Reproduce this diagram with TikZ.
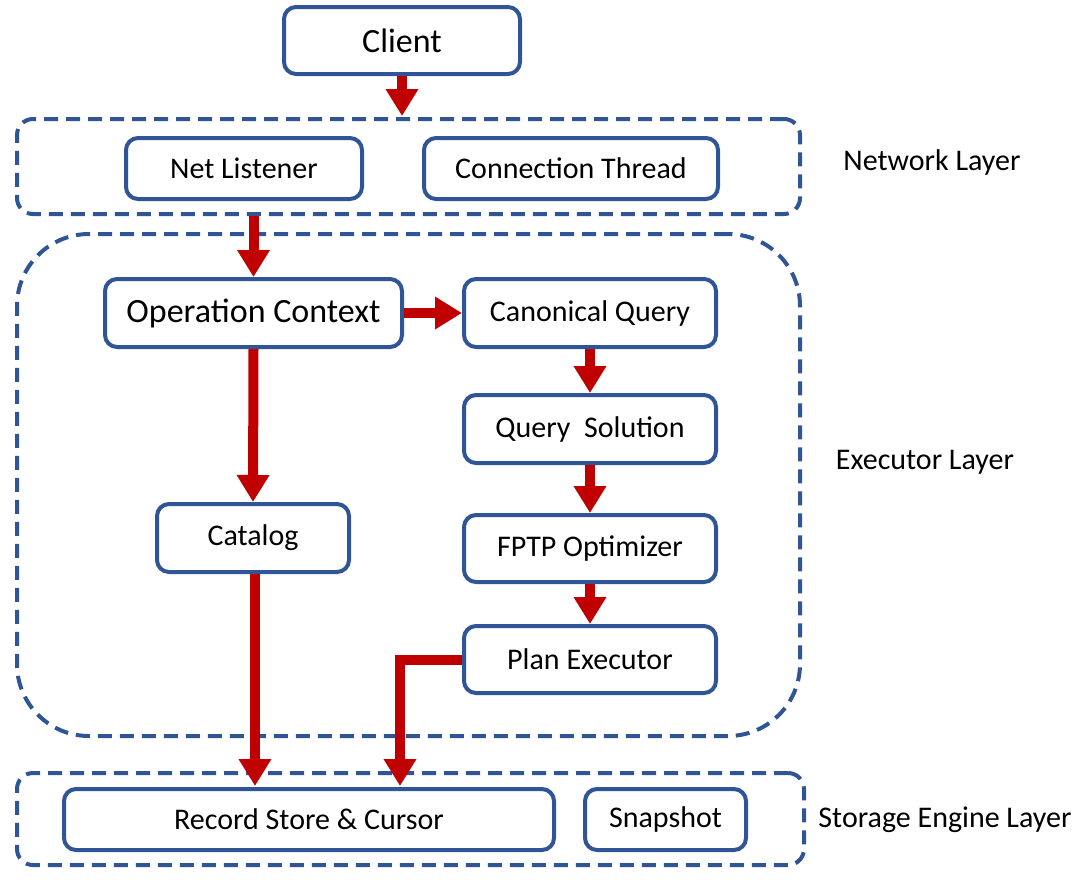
\documentclass[tikz,border=0pt]{standalone}
\usepackage{fontspec}
\setmainfont{Carlito}
\usetikzlibrary{arrows.meta}
\definecolor{boxblue}{HTML}{2F5597}
\definecolor{arrred}{HTML}{C00000}
\begin{document}
\begin{tikzpicture}[x=1pt,y=-1pt,
  box/.style={draw=boxblue,line width=4pt,rounded corners=12pt,fill=white,
    font=\fontsize{30}{35}\selectfont,inner sep=0pt},
  big/.style={font=\fontsize{34}{39}\selectfont},
  layer/.style={draw=boxblue,line width=4pt,dash pattern=on 14pt off 8pt,inner sep=0pt},
  lbl/.style={font=\fontsize{30}{35}\selectfont},
  arr/.style={draw=arrred,line width=10pt,-{Triangle[width=31pt,length=27pt]}}]
\useasboundingbox (0,0) rectangle (1085,879);
% layers
\node[layer,rounded corners=16pt,minimum width=783pt,minimum height=95pt] (net) at (408.5,166.5) {};
\node[layer,rounded corners=72pt,minimum width=783pt,minimum height=502pt] (exe) at (408.5,485) {};
\node[layer,rounded corners=16pt,minimum width=787pt,minimum height=92pt] (sto) at (410.5,819) {};
\node[lbl] (netlbl) at (932,162) {Network Layer};
\node[lbl] (exelbl) at (925,462) {Executor Layer};
\node[lbl] (stolbl) at (945,820) {Storage Engine Layer};
% boxes
\node[box,big,minimum width=236pt,minimum height=67pt] (client) at (402,40.5) {Client};
\node[box,minimum width=236pt,minimum height=61pt] (listen) at (244,168.5) {Net Listener};
\node[box,minimum width=294pt,minimum height=61pt] (conn) at (571,168.5) {Connection Thread};
\node[box,big,minimum width=297pt,minimum height=68pt] (opctx) at (253.5,313) {Operation Context};
\node[box,minimum width=252pt,minimum height=68pt] (canon) at (590,313) {Canonical Query};
\node[box,minimum width=252pt,minimum height=68pt] (qsol) at (590,429) {Query\ \ Solution};
\node[box,minimum width=192pt,minimum height=68pt] (catalog) at (253,538) {Catalog};
\node[box,minimum width=252pt,minimum height=67pt] (fptp) at (590,548.5) {FPTP Optimizer};
\node[box,minimum width=252pt,minimum height=67pt] (plan) at (590,659.5) {Plan Executor};
\node[box,minimum width=490pt,minimum height=61pt] (record) at (309,819.5) {Record Store \& Cursor};
\node[box,minimum width=161pt,minimum height=61pt] (snap) at (665.5,819.5) {Snapshot};
% arrows
\coordinate (netin) at (402,116);
\coordinate (recin) at (400,786);
\draw[arr] (client.south) -- (netin);
\draw[arr] (opctx.north |- net.south) -- (opctx.north);
\draw[arr] (opctx.east) -- (canon.west);
\draw[arr] (opctx.south) -- (catalog.north);
\draw[arr] (canon.south) -- (qsol.north);
\draw[arr] (qsol.south) -- (fptp.north);
\draw[arr] (fptp.south) -- (plan.north);
\draw[arr] ([xshift=2pt]catalog.south) -- ([xshift=2pt]catalog.south |- recin);
\draw[arr] (plan.west) -| (recin);
\end{tikzpicture}
\end{document}
